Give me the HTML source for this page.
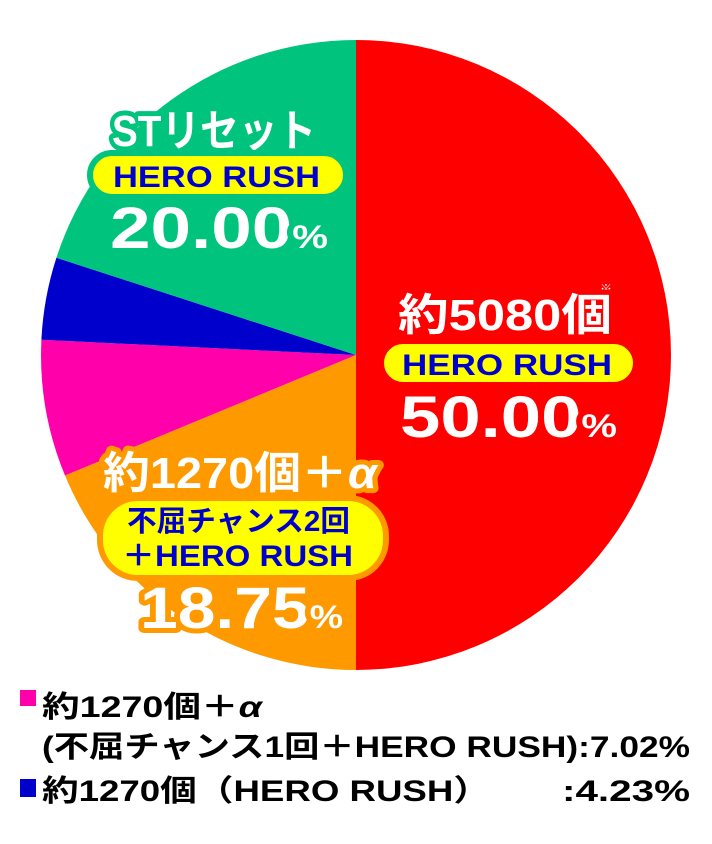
<!DOCTYPE html>
<html><head><meta charset="utf-8"><style>
html,body{margin:0;padding:0;background:#fff;}
svg{display:block;}
text{font-family:"Liberation Sans","Noto Sans CJK JP",sans-serif;font-weight:bold;}
.w{fill:#fff;stroke-width:10;stroke-linejoin:round;paint-order:stroke;}
.b{fill:#0000cc;}
</style></head><body>
<svg width="712" height="844" viewBox="0 0 712 844">
<path d="M356 355 L356 40 A315 315 0 0 1 356 670 Z" fill="#ff0000"/>
<path d="M356 355 L356 670 A315 315 0 0 1 65 475.5 Z" fill="#ff9900"/>
<path d="M356 355 L65 475.5 A315 315 0 0 1 41.4 339.8 Z" fill="#ff00aa"/>
<path d="M356 355 L41.4 339.8 A315 315 0 0 1 56.4 257.7 Z" fill="#0000cc"/>
<path d="M356 355 L56.4 257.7 A315 315 0 0 1 356 40 Z" fill="#00c47d"/>

<!-- green label -->
<text x="112" y="146" class="w" stroke="#00c47d" font-size="44" textLength="204" lengthAdjust="spacingAndGlyphs">STリセット</text>
<rect x="90" y="153" width="256" height="44" rx="22" fill="#ffff00" stroke="#00c47d" stroke-width="6"/>
<text x="113" y="187" class="b" font-size="30" textLength="207" lengthAdjust="spacingAndGlyphs">HERO RUSH</text>
<text x="110" y="248" class="w" stroke="#00c47d" font-size="58" textLength="218" lengthAdjust="spacingAndGlyphs">20.00<tspan font-size="32">%</tspan></text>

<!-- red label -->
<text x="606" y="293" fill="#fff" font-size="12" text-anchor="middle">※</text>
<text x="398" y="330" class="w" stroke="#ff0000" font-size="44" textLength="214" lengthAdjust="spacingAndGlyphs">約5080個</text>
<rect x="381" y="341" width="255" height="44" rx="22" fill="#ffff00" stroke="#ff0000" stroke-width="6"/>
<text x="402" y="375" class="b" font-size="30" textLength="210" lengthAdjust="spacingAndGlyphs">HERO RUSH</text>
<text x="400" y="437" class="w" stroke="#ff0000" font-size="58" textLength="217" lengthAdjust="spacingAndGlyphs">50.00<tspan font-size="32">%</tspan></text>

<!-- orange label -->
<text x="103" y="488" class="w" stroke="#ff9900" font-size="44" textLength="274" lengthAdjust="spacingAndGlyphs">約1270個＋<tspan font-style="italic">α</tspan></text>
<rect x="100" y="498" width="286" height="80" rx="38" fill="#ffff00" stroke="#ff9900" stroke-width="6"/>
<text x="127" y="531" class="b" font-size="29" textLength="223" lengthAdjust="spacingAndGlyphs">不屈チャンス2回</text>
<text x="122" y="566" class="b" font-size="30" textLength="231" lengthAdjust="spacingAndGlyphs">＋HERO RUSH</text>
<text x="140" y="628" class="w" stroke="#ff9900" font-size="58" textLength="203" lengthAdjust="spacingAndGlyphs">18.75<tspan font-size="32">%</tspan></text>

<!-- legend -->
<rect x="20" y="690" width="16" height="16" fill="#ff00aa"/>
<text x="42" y="717" font-size="30" fill="#000" textLength="220" lengthAdjust="spacingAndGlyphs">約1270個＋<tspan font-style="italic">α</tspan></text>
<text x="42" y="757" font-size="30" fill="#000" textLength="648" lengthAdjust="spacingAndGlyphs">(不屈チャンス1回＋HERO RUSH):7.02%</text>
<rect x="20" y="779" width="16" height="18" fill="#0000cc"/>
<text x="42" y="801" font-size="30" fill="#000" textLength="448" lengthAdjust="spacingAndGlyphs">約1270個（HERO RUSH）</text>
<text x="562" y="801" font-size="30" fill="#000" textLength="128" lengthAdjust="spacingAndGlyphs">:4.23%</text>
</svg>
</body></html>
